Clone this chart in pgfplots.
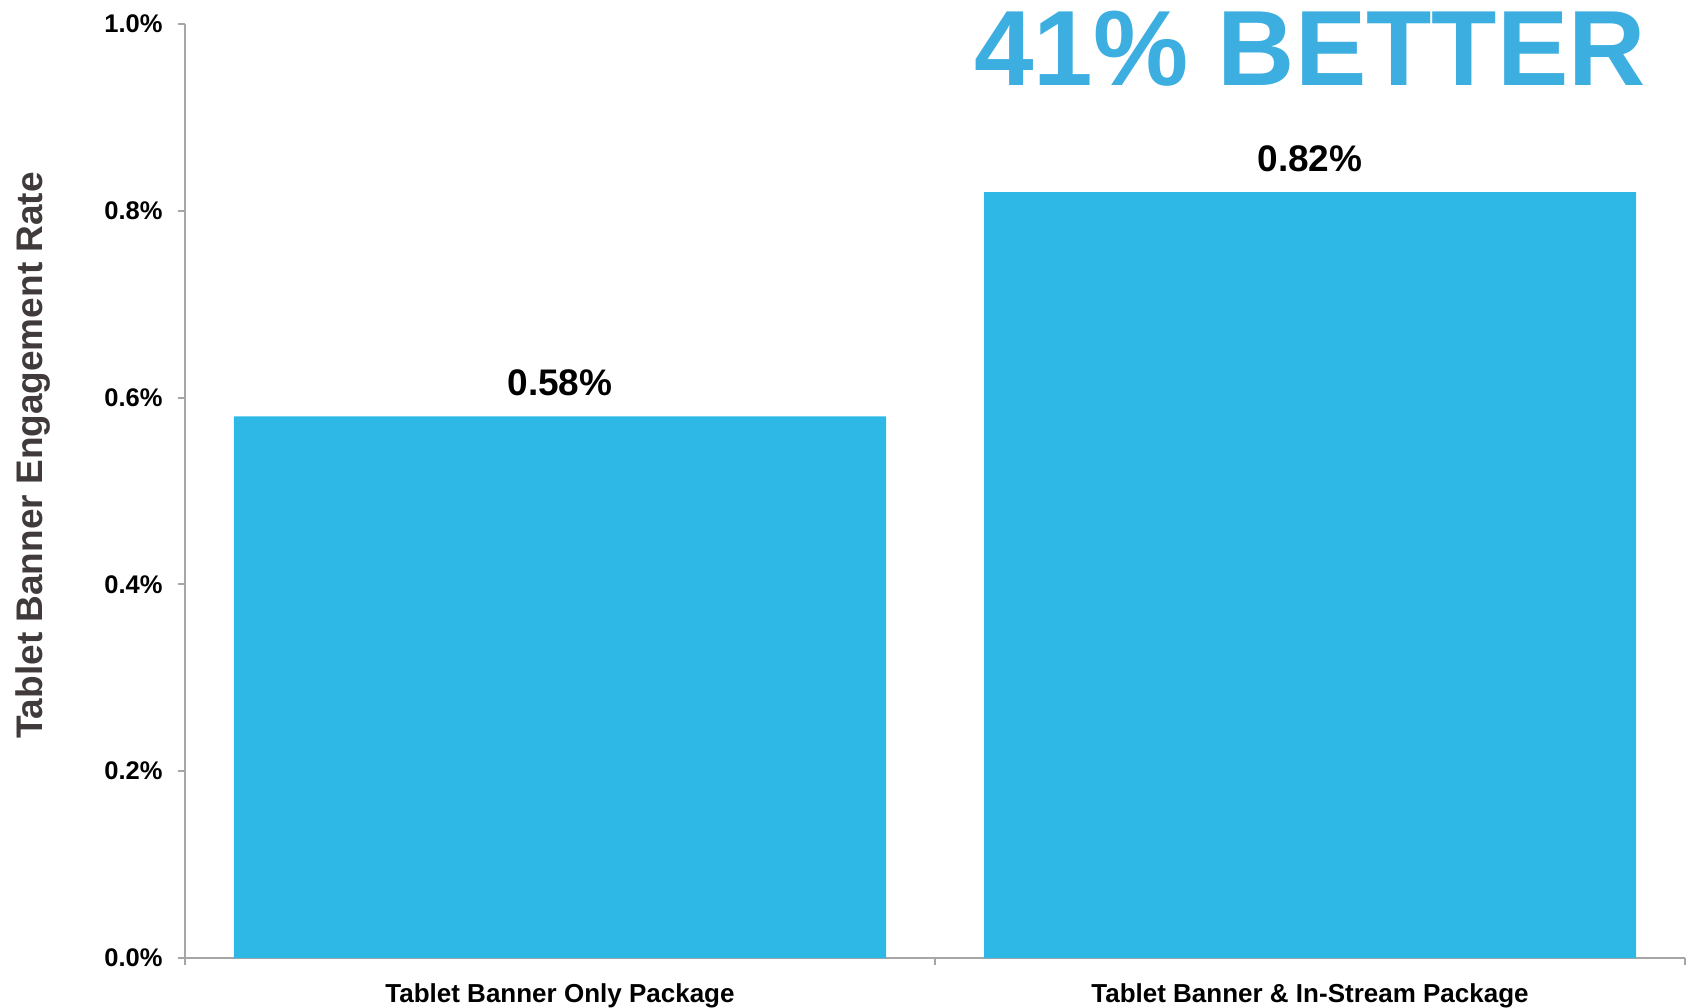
\documentclass[border=0pt]{standalone}
\usepackage{fontspec}
\setmainfont{Liberation Sans}
\usepackage{pgfplots}
\pgfplotsset{compat=1.18}
\definecolor{barblue}{HTML}{2DB8E5}
\definecolor{titleblue}{HTML}{3DAEE0}
\definecolor{axisgray}{HTML}{A6A6A6}
\definecolor{labelgray}{HTML}{403B3A}
\begin{document}
\begin{tikzpicture}
\begin{axis}[
  at={(0,0)}, anchor=south west,
  scale only axis, width=750bp, height=467bp,
  xmin=-0.5, xmax=1.5, ymin=0, ymax=1.0,
  clip=false,
  axis lines=left,
  axis line style={-, draw=axisgray, line width=1bp},
  tick align=outside,
  major tick length=3.5bp,
  ytick={0,0.2,0.4,0.6,0.8,1.0},
  yticklabels={0.0\%,0.2\%,0.4\%,0.6\%,0.8\%,1.0\%},
  ytick style={draw=axisgray, line width=1bp},
  yticklabel style={font=\fontsize{12.75bp}{15bp}\selectfont\bfseries, inner sep=0pt, xshift=-7.5bp},
  xtick={0,1},
  xticklabels={Tablet Banner Only Package, Tablet Banner \& In-Stream Package},
  xtick style={draw=none},
  xticklabel style={font=\fontsize{13bp}{15bp}\selectfont\bfseries, inner sep=0pt, anchor=north, yshift=-9bp},
  extra x ticks={-0.5,0.5,1.5},
  extra x tick labels={},
  extra x tick style={xtick style={draw=axisgray, line width=1bp}},
  ylabel={Tablet Banner Engagement Rate},
  every axis y label/.style={at={(axis description cs:-0.1013,0.538)}, rotate=90, anchor=center,
    font=\fontsize{18.5bp}{22bp}\selectfont\bfseries, text=labelgray},
  ybar, bar width=326bp,
  nodes near coords,
  point meta=explicit symbolic,
  every node near coord/.append style={font=\fontsize{18.5bp}{22bp}\selectfont\bfseries, anchor=base, inner sep=0pt, yshift=10.5bp, text=black},
]
\addplot[fill=barblue, draw=none] coordinates {(0,0.58) [0.58\%] (1,0.82) [0.82\%]};
\node[font=\fontsize{53.5bp}{60bp}\selectfont\bfseries, text=titleblue, anchor=base, inner sep=0pt] at (axis cs:1,0.934) {41\% BETTER};
\end{axis}
\pgfresetboundingbox
\useasboundingbox (-92.5bp,-25bp) rectangle (751.5bp,479bp);
\end{tikzpicture}
\end{document}
